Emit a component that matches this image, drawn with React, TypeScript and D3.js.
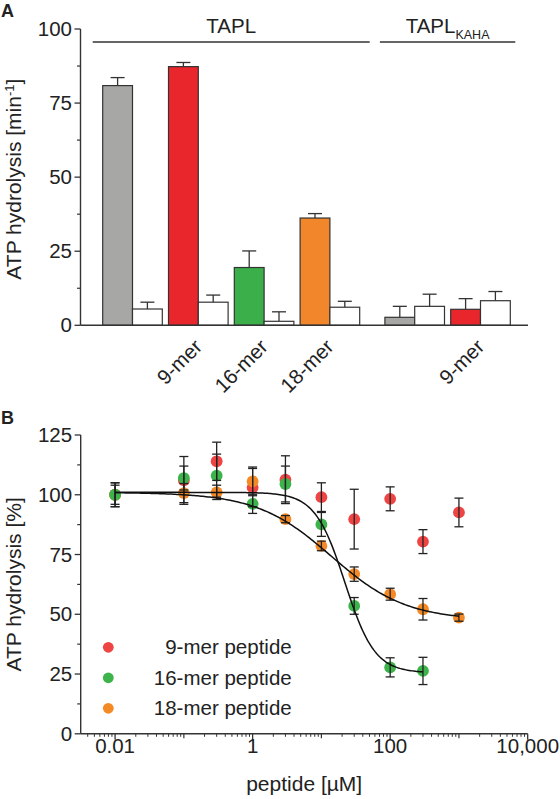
import React from "react";
import * as d3 from "d3";

// ---------- Panel A data ----------
const pairLabels = ["", "9-mer", "16-mer", "18-mer", "", "9-mer"];
const pairGroups = ["TAPL", "TAPL", "TAPL", "TAPL", "KAHA", "KAHA"];
const coloredValues = [80.9, 87.3, 19.5, 36.2, 2.7, 5.4];
const coloredErrors = [2.7, 1.4, 5.6, 1.5, 3.7, 3.6];
const whiteValues = [5.5, 7.8, 1.35, 6.1, 6.4, 8.3];
const whiteErrors = [2.3, 2.4, 3.2, 2.0, 4.1, 3.1];
const yTicksA = [0, 25, 50, 75, 100];
const yMinorA = [12.5, 37.5, 62.5, 87.5];

// ---------- Panel B data ----------
const concentrations = [0.01, 0.1, 0.3, 1, 3, 10, 30, 100, 300, 1000];
const red9 = [100, 106, 114, 103, 106.3, 99, 89.8, 98.3, 80.4, 92.6];
const red9Err = [5, 10, 8, 8, 10, 6, 12.5, 5, 5, 6];
const green16 = [100, 107, 108, 96.2, 104.5, 87.6, 53.5, 27.8, 26.3, null];
const green16Err = [5, 5, 9, 4, 7.5, 5, 3.5, 4, 5.7, null];
const orange18 = [100, 100.7, 101, 105.6, 89.8, 78.6, 66.8, 58.4, 52.1, 48.6];
const orange18Err = [4, 4, 3, 6, 1.5, 2, 3, 2.5, 4.5, 1.5];
const seriesNames = ["9-mer peptide", "16-mer peptide", "18-mer peptide"];
// dose-response fit parameters [top, bottom, IC50, hill, last concentration]
const fit16 = [101, 25.5, 22, 2, 300];
const fit18 = [101, 47.5, 14, 0.8, 1000];
const yTicksB = [0, 25, 50, 75, 100, 125];
const yMinorB = [12.5, 37.5, 62.5, 87.5, 112.5];
const xMajorB = [0.01, 1, 100, 10000];
const xMajorLabels = ["0.01", "1", "100", "10,000"];
const xMediumB = [0.1, 10, 1000];

// ---------- styles ----------
const barColors = ["#a7a7a5", "#e8262b", "#3bb04a", "#f1862a", "#a7a7a5", "#e8262b"];
const dotColors = ["#ee4444", "#3cb44b", "#f48a26"];
const FONT = "'Liberation Sans', Arial, Helvetica, sans-serif";
const AX = "#333";

export default function App() {
  // ===== Panel A =====
  const yA = d3.scaleLinear().domain([0, 100]).range([325.3, 29]);
  const xPair = d3.scaleLinear().domain([0, 1]).range([102.7, 168.5]);
  const groupGap = 19;
  const barW = 29.8;
  const pairX = (i: number) => xPair(i) + (pairGroups[i] === "KAHA" ? groupGap : 0);
  const axisLeftA = 80.5;
  const axisRightA = 528;

  const taplX1 = pairX(0) - 10;
  const taplX2 = pairX(3) + 2 * barW + 10;
  const kahaX1 = pairX(4) - 5;
  const kahaX2 = pairX(5) + 2 * barW + 5;

  // ===== Panel B =====
  const xB = d3.scaleLog().domain([Math.pow(10, -2.5), 10000]).range([80.7, 527.7]);
  const yB = d3.scaleLinear().domain([0, 125]).range([733.8, 435]);
  const axisBottomB = 733.8;

  const minorB: number[] = [];
  for (let e = -3; e <= 3; e++) {
    for (let k = 2; k <= 9; k++) {
      const v = k * Math.pow(10, e);
      if (v >= Math.pow(10, -2.5) && v <= 10000) minorB.push(v);
    }
  }

  const hill = (p: number[]) => (c: number) => p[1] + (p[0] - p[1]) / (1 + Math.pow(c / p[2], p[3]));
  const curve = (p: number[]) => {
    const f = hill(p);
    const pts = d3.range(0, 201).map((i) => {
      const lc = -2 + (i / 200) * (Math.log10(p[4]) + 2);
      const c = Math.pow(10, lc);
      return [xB(c), yB(f(c))] as [number, number];
    });
    return d3.line()(pts) || "";
  };

  const series = [
    { v: red9, e: red9Err, color: dotColors[0] },
    { v: orange18, e: orange18Err, color: dotColors[2] },
    { v: green16, e: green16Err, color: dotColors[1] },
  ];

  const capA = 7;
  const capB = 4.5;

  return (
    <svg
      width={560}
      height={799}
      style={{ position: "absolute", left: 0, top: 0, display: "block", background: "#fff" }}
      fontFamily={FONT}
    >
      <rect x={0} y={0} width={560} height={799} fill="#fff" />
      {/* ===== Panel A ===== */}
      <text x={1} y={17} fontSize={18} fontWeight="bold" fill="#222">A</text>

      {/* group annotations */}
      <line x1={taplX1} x2={taplX2} y1={42} y2={42} stroke={AX} strokeWidth={1.3} />
      <line x1={kahaX1} x2={kahaX2} y1={42} y2={42} stroke={AX} strokeWidth={1.3} />
      <text x={(taplX1 + taplX2) / 2} y={33} fontSize={20.5} textAnchor="middle" fill="#222">TAPL</text>
      <text x={(kahaX1 + kahaX2) / 2} y={33} fontSize={20.5} textAnchor="middle" fill="#222">
        TAPL<tspan fontSize={12.5} dy={6}>KAHA</tspan>
      </text>

      {/* bars */}
      {pairLabels.map((_, i) => {
        const x0 = pairX(i);
        const cTop = yA(coloredValues[i]);
        const wTop = yA(whiteValues[i]);
        const cErr = yA(coloredValues[i] + coloredErrors[i]);
        const wErr = yA(whiteValues[i] + whiteErrors[i]);
        return (
          <g key={i}>
            <line x1={x0 + barW / 2} x2={x0 + barW / 2} y1={cTop} y2={cErr} stroke={AX} strokeWidth={1.3} />
            <line x1={x0 + barW / 2 - capA} x2={x0 + barW / 2 + capA} y1={cErr} y2={cErr} stroke={AX} strokeWidth={1.3} />
            <line x1={x0 + barW * 1.5} x2={x0 + barW * 1.5} y1={wTop} y2={wErr} stroke={AX} strokeWidth={1.3} />
            <line x1={x0 + barW * 1.5 - capA} x2={x0 + barW * 1.5 + capA} y1={wErr} y2={wErr} stroke={AX} strokeWidth={1.3} />
            <rect x={x0} y={cTop} width={barW} height={yA(0) - cTop} fill={barColors[i]} stroke={AX} strokeWidth={1.2} />
            <rect x={x0 + barW} y={wTop} width={barW} height={yA(0) - wTop} fill="#fff" stroke={AX} strokeWidth={1.2} />
            {pairLabels[i] && (
              <text
                transform={`translate(${x0 + barW + 5},348) rotate(-45)`}
                fontSize={20.5}
                textAnchor="end"
                fill="#222"
              >
                {pairLabels[i]}
              </text>
            )}
          </g>
        );
      })}

      {/* axes A */}
      <line x1={axisLeftA} x2={axisLeftA} y1={yA(0)} y2={yA(100)} stroke={AX} strokeWidth={1.4} />
      <line x1={axisLeftA} x2={axisRightA} y1={yA(0)} y2={yA(0)} stroke={AX} strokeWidth={1.4} />
      {yTicksA.map((t) => (
        <g key={t}>
          <line x1={axisLeftA - 6} x2={axisLeftA} y1={yA(t)} y2={yA(t)} stroke={AX} strokeWidth={1.3} />
          <text x={axisLeftA - 8.5} y={yA(t)} dy="0.35em" fontSize={20.5} textAnchor="end" fill="#222">
            {t}
          </text>
        </g>
      ))}
      {yMinorA.map((t) => (
        <line key={t} x1={axisLeftA - 3.5} x2={axisLeftA} y1={yA(t)} y2={yA(t)} stroke={AX} strokeWidth={1.2} />
      ))}
      <text transform={`translate(21,${(yA(0) + yA(100)) / 2 + 2}) rotate(-90)`} fontSize={21} textAnchor="middle" fill="#222">
        ATP hydrolysis [min<tspan fontSize={13} dy={-7}>-1</tspan>
        <tspan dy={7}>]</tspan>
      </text>

      {/* ===== Panel B ===== */}
      <text x={1} y={424} fontSize={18} fontWeight="bold" fill="#222">B</text>

      {/* markers */}
      {series.map((s, si) =>
        concentrations.map((c, i) =>
          s.v[i] == null ? null : (
            <circle key={`${si}-${i}`} cx={xB(c)} cy={yB(s.v[i] as number)} r={5.9} fill={s.color} />
          )
        )
      )}
      {/* error bars */}
      {series.map((s, si) =>
        concentrations.map((c, i) => {
          if (s.v[i] == null) return null;
          const v = s.v[i] as number;
          const e = s.e[i] as number;
          const cx = xB(c);
          const y1 = yB(v + e);
          const y2 = yB(v - e);
          return (
            <g key={`e${si}-${i}`} stroke="#222" strokeWidth={1.3}>
              <line x1={cx} x2={cx} y1={y1} y2={y2} />
              <line x1={cx - capB} x2={cx + capB} y1={y1} y2={y1} />
              <line x1={cx - capB} x2={cx + capB} y1={y2} y2={y2} />
            </g>
          );
        })
      )}
      {/* fit curves */}
      <path d={curve(fit16)} fill="none" stroke="#111" strokeWidth={1.5} />
      <path d={curve(fit18)} fill="none" stroke="#111" strokeWidth={1.5} />

      {/* axes B */}
      <line x1={xB.range()[0]} x2={xB.range()[0]} y1={yB(0)} y2={yB(125)} stroke={AX} strokeWidth={1.4} />
      <line x1={xB.range()[0]} x2={xB.range()[1]} y1={axisBottomB} y2={axisBottomB} stroke={AX} strokeWidth={1.4} />
      {yTicksB.map((t) => (
        <g key={t}>
          <line x1={80.7 - 6} x2={80.7} y1={yB(t)} y2={yB(t)} stroke={AX} strokeWidth={1.3} />
          <text x={80.7 - 8.5} y={yB(t)} dy="0.35em" fontSize={20.5} textAnchor="end" fill="#222">
            {t}
          </text>
        </g>
      ))}
      {yMinorB.map((t) => (
        <line key={t} x1={80.7 - 3.5} x2={80.7} y1={yB(t)} y2={yB(t)} stroke={AX} strokeWidth={1.2} />
      ))}
      {xMajorB.map((t, i) => (
        <g key={t}>
          <line x1={xB(t)} x2={xB(t)} y1={axisBottomB} y2={axisBottomB + 6} stroke={AX} strokeWidth={1.3} />
          <text x={xB(t)} y={753} fontSize={20.5} textAnchor="middle" fill="#222">
            {xMajorLabels[i]}
          </text>
        </g>
      ))}
      {xMediumB.map((t) => (
        <line key={t} x1={xB(t)} x2={xB(t)} y1={axisBottomB} y2={axisBottomB + 4.5} stroke={AX} strokeWidth={1.2} />
      ))}
      {minorB.map((t) => (
        <line key={t} x1={xB(t)} x2={xB(t)} y1={axisBottomB} y2={axisBottomB + 3} stroke={AX} strokeWidth={1} />
      ))}
      <text x={(xB.range()[0] + xB.range()[1]) / 2} y={791} fontSize={21} textAnchor="middle" fill="#222">
        peptide [µM]
      </text>
      <text transform={`translate(21,${(yB(0) + yB(125)) / 2}) rotate(-90)`} fontSize={21} textAnchor="middle" fill="#222">
        ATP hydrolysis [%]
      </text>

      {/* legend */}
      {seriesNames.map((n, i) => (
        <g key={n}>
          <circle cx={108.3} cy={647.3 + i * 30.5} r={5.4} fill={dotColors[i]} />
          <text x={291.7} y={647.3 + i * 30.5} dy="0.35em" fontSize={20.5} textAnchor="end" fill="#222">
            {n}
          </text>
        </g>
      ))}
    </svg>
  );
}
